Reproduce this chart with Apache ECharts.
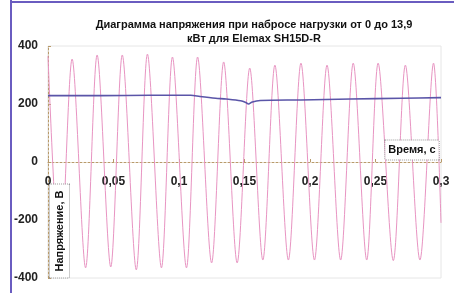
<!DOCTYPE html>
<html>
<head>
<meta charset="utf-8">
<script src="https://cdn.jsdelivr.net/npm/echarts@6/dist/echarts.min.js"></script>
<style>
  html, body { margin: 0; padding: 0; background: #fff; }
  #chart { width: 454px; height: 293px; }
</style>
</head>
<body>
<div id="chart"></div>
<script>
// время, с и мгновенное напряжение, В (пики и провалы)
var uTimes = [0, 0.0092, 0.0184, 0.0287, 0.0375, 0.0479, 0.0567, 0.0674, 0.0759, 0.0866,
  0.095, 0.1057, 0.1142, 0.1249, 0.1341, 0.1444, 0.154, 0.164, 0.1732, 0.1835,
  0.1931, 0.2034, 0.213, 0.2234, 0.233, 0.2433, 0.252, 0.2636, 0.2728, 0.2839, 0.2943, 0.3]
var uValues = [365, -365, 355, -365, 369, -362, 369, -372, 372, -365,
  362, -365, 362, -348, 345, -348, 324, -338, 334, -338,
  341, -338, 334, -338, 341, -338, 341, -340, 334, -338, 341, -210]

// действующее напряжение
var rmsTimes = [0, 0.04, 0.078, 0.109, 0.116, 0.128, 0.136, 0.147, 0.151, 0.153, 0.156, 0.162, 0.193, 0.231, 0.27, 0.3]
var rmsValues = [229, 229, 230, 230, 226, 220, 217, 211, 205, 200, 207, 212, 214, 217, 220, 222]

var xTicks = [0, 0.05, 0.1, 0.15, 0.2, 0.25, 0.3]
var yTicks = [-400, -200, 0, 200, 400]

function pairs (xs, ys) {
  return xs.map(function (x, i) { return [x, ys[i]] })
}

var font = "'Liberation Sans', Arial, sans-serif"
var axisColor = '#b89a6a'

var myChart = echarts.init(document.getElementById('chart'))
myChart.setOption({
  backgroundColor: '#fff',
  animation: false,
  title: {
    text: 'Диаграмма напряжения при набросе нагрузки от 0 до 13,9\nкВт для Elemax SH15D-R',
    left: 249,
    top: 13,
    textAlign: 'center',
    textStyle: { fontFamily: font, fontSize: 11, fontWeight: 'bold', color: '#111', lineHeight: 14 }
  },
  grid: {
    left: 48, right: 13, top: 46, bottom: 15,
    outerBoundsMode: 'none',
    containLabel: false,
    show: true, borderColor: '#e6e6e6', borderWidth: 1
  },
  xAxis: {
    type: 'value',
    min: xTicks[0],
    max: xTicks[xTicks.length - 1],
    interval: 0.05,
    offset: -116, // ось на уровне нуля, вместе с подписями
    axisLine: { onZero: false, lineStyle: { color: axisColor, type: [2, 2] } },
    axisTick: { inside: true, length: 3, lineStyle: { color: axisColor } },
    splitLine: { show: false },
    axisLabel: {
      margin: 14,
      fontFamily: font,
      fontSize: 12,
      fontWeight: 'bold',
      color: '#222',
      formatter: function (v) { return String(+v.toFixed(2)).replace('.', ',') }
    }
  },
  yAxis: {
    type: 'value',
    min: yTicks[0],
    max: yTicks[yTicks.length - 1],
    interval: 200,
    axisLine: { show: true, lineStyle: { color: axisColor, type: [2, 2] } },
    axisTick: { show: true, inside: true, length: 3, lineStyle: { color: axisColor } },
    splitLine: { show: false },
    axisLabel: { margin: 10, fontFamily: font, fontSize: 12, fontWeight: 'bold', color: '#222' }
  },
  series: [
    {
      type: 'line',
      data: pairs(uTimes, uValues),
      showSymbol: false,
      smooth: 0.3,
      lineStyle: { color: '#e894c2', width: 1 },
      z: 2
    },
    {
      type: 'line',
      data: pairs(rmsTimes, rmsValues),
      showSymbol: false,
      smooth: 0.3,
      lineStyle: { color: '#5a55a8', width: 1.6 },
      z: 3
    }
  ],
  graphic: [
    { type: 'line', shape: { x1: 11, y1: 0, x2: 11, y2: 293 }, style: { stroke: '#6a5cc0', lineWidth: 2 } },
    { type: 'line', shape: { x1: 11, y1: 2, x2: 454, y2: 2 }, style: { stroke: '#6a5cc0', lineWidth: 2 } },
    {
      type: 'text',
      x: 412,
      y: 150,
      z: 10,
      style: {
        text: 'Время, с',
        font: 'bold 11px ' + font,
        fill: '#111',
        align: 'center',
        verticalAlign: 'middle',
        backgroundColor: '#fff',
        borderColor: '#999',
        borderWidth: 1,
        borderDash: [1, 1],
        padding: [4, 3, 4, 3]
      }
    },
    {
      type: 'text',
      x: 59.5,
      y: 231,
      rotation: Math.PI / 2,
      z: 10,
      style: {
        text: 'Напряжение, В',
        font: 'bold 11px ' + font,
        fill: '#111',
        align: 'center',
        verticalAlign: 'middle',
        backgroundColor: '#fff',
        borderColor: '#999',
        borderWidth: 1,
        borderDash: [1, 1],
        padding: [4, 6, 4, 6]
      }
    }
  ]
})
</script>
</body>
</html>
